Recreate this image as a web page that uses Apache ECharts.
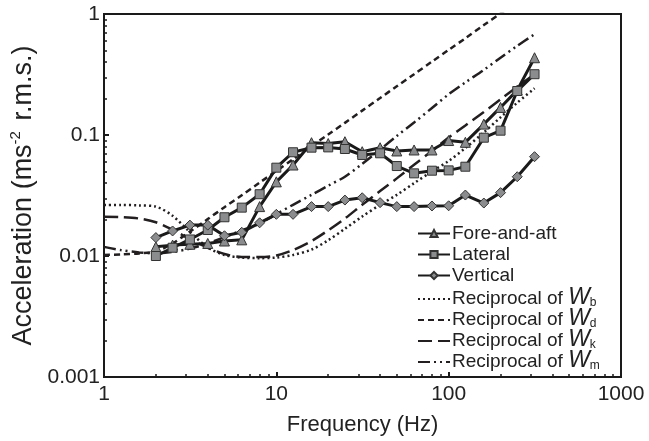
<!DOCTYPE html>
<html>
<head>
<meta charset="utf-8">
<script src="https://cdn.jsdelivr.net/npm/echarts@6/dist/echarts.min.js"></script>
<style>
  html, body { margin: 0; padding: 0; background: #fff; }
  #main { width: 649px; height: 441px; }
</style>
</head>
<body>
<div id="main"></div>
<script>
  // one-third octave centre frequencies of the measured spectra (Hz)
  const freqs = [2, 2.5, 3.15, 4, 5, 6.3, 8, 10, 12.5, 16, 20, 25, 31.5, 40, 50, 63, 80, 100, 125, 160, 200, 250, 315];
  const foreAft = [0.0119, 0.0123, 0.0125, 0.0127, 0.0133, 0.0136, 0.0256, 0.041, 0.0565, 0.0864, 0.085, 0.088, 0.0728, 0.0785, 0.0738, 0.0752, 0.0752, 0.09, 0.087, 0.123, 0.169, 0.235, 0.435];
  const lateral = [0.010, 0.0117, 0.0137, 0.0164, 0.0209, 0.0251, 0.0324, 0.0537, 0.072, 0.0786, 0.079, 0.0766, 0.0684, 0.0706, 0.0554, 0.0482, 0.0507, 0.051, 0.0547, 0.095, 0.1086, 0.231, 0.318];
  const vertical = [0.0142, 0.0161, 0.018, 0.018, 0.0147, 0.0157, 0.0188, 0.0221, 0.0221, 0.0256, 0.0256, 0.029, 0.0303, 0.0276, 0.0256, 0.0256, 0.0259, 0.026, 0.0319, 0.0274, 0.0334, 0.0452, 0.0662];

  // reciprocal frequency weightings
  const wFreqs = [1, 1.25, 1.6, 2, 2.5, 3.15, 4, 5, 6.3, 8, 10, 12.5, 16, 20, 25, 31.5, 40, 50, 63, 80, 100, 125, 160, 200, 250, 315];
  const recipWb = [0.0264, 0.0264, 0.0262, 0.0256, 0.0215, 0.0158, 0.0118, 0.0102, 0.0097, 0.0096, 0.0097, 0.0102, 0.0113, 0.0135, 0.0168, 0.0212, 0.0265, 0.032, 0.040, 0.050, 0.061, 0.078, 0.105, 0.14, 0.185, 0.243];
  const recipWd = [0.0102, 0.0103, 0.0105, 0.0109, 0.0127, 0.0159, 0.0202, 0.0253, 0.0318, 0.0404, 0.0505, 0.063, 0.081, 0.101, 0.126, 0.159, 0.202, 0.253, 0.318, 0.404, 0.505, 0.63, 0.81, 1.01, 1.26, 1.59];
  const recipWk = [0.0211, 0.0210, 0.0204, 0.019, 0.0165, 0.0138, 0.0117, 0.0104, 0.0098, 0.0098, 0.0101, 0.0112, 0.0133, 0.0163, 0.0204, 0.0265, 0.0344, 0.0438, 0.0568, 0.0738, 0.0952, 0.12, 0.155, 0.197, 0.25, 0.318];
  const recipWm = [0.0119, 0.0112, 0.0107, 0.0105, 0.0108, 0.0115, 0.0127, 0.0143, 0.0163, 0.0186, 0.0222, 0.0265, 0.032, 0.0381, 0.0452, 0.0577, 0.0757, 0.0981, 0.127, 0.167, 0.217, 0.272, 0.345, 0.435, 0.545, 0.68];

  const xTicks = ['1', '10', '100', '1000'];
  const yTicks = ['0.001', '0.01', '0.1', '1'];

  const font = 'Liberation Sans';
  const ink = '#1a1a1a';
  const markerFill = '#8a8c8e';

  function pairs(xs, ys) {
    return xs.map((x, i) => [x, ys[i]]);
  }

  function dataLine(name, ys, symbol, size) {
    return {
      name: name,
      type: 'line',
      data: pairs(freqs, ys),
      symbol: symbol,
      symbolSize: size,
      showAllSymbol: true,
      lineStyle: { color: ink, width: 3 },
      itemStyle: { color: markerFill, borderColor: '#333', borderWidth: 1 },
      z: 5
    };
  }

  function refLine(name, ys, dash) {
    return {
      name: name,
      type: 'line',
      data: pairs(wFreqs, ys),
      symbol: 'none',
      smooth: 0.3,
      clip: true,
      lineStyle: { color: '#231f20', width: 2.5, type: dash },
      itemStyle: { color: '#231f20', opacity: 0 },
      z: 3
    };
  }

  const legendNames = {
    Wb: 'Reciprocal of {w|W}{s|b}',
    Wd: 'Reciprocal of {w|W}{s|d}',
    Wk: 'Reciprocal of {w|W}{s|k}',
    Wm: 'Reciprocal of {w|W}{s|m}'
  };

  const legendText = {
    fontFamily: font,
    fontSize: 19,
    color: '#222',
    padding: [0, 0, 0, -3],
    rich: {
      w: { fontFamily: font, fontStyle: 'italic', fontSize: 23, lineHeight: 20, color: '#222', verticalAlign: 'bottom' },
      s: { fontFamily: font, fontSize: 12, lineHeight: 12, color: '#222', verticalAlign: 'bottom' }
    }
  };

  let chart = echarts.init(document.getElementById('main'));
  let option = {
    animation: false,
    textStyle: { fontFamily: font },
    grid: {
      left: 104,
      right: 28,
      top: 14,
      bottom: 64,
      show: true,
      borderColor: ink,
      borderWidth: 2
    },
    legend: [{
      orient: 'vertical',
      left: 412,
      top: 219,
      itemGap: 2,
      itemWidth: 32,
      itemHeight: 9,
      data: ['Fore-and-aft', 'Lateral', 'Vertical'],
      textStyle: legendText
    }, {
      orient: 'vertical',
      left: 412,
      top: 281,
      itemGap: -2,
      itemWidth: 32,
      itemHeight: 9,
      data: [
        { name: 'Wb', itemStyle: { opacity: 0 } },
        { name: 'Wd', itemStyle: { opacity: 0 } },
        { name: 'Wk', itemStyle: { opacity: 0 } },
        { name: 'Wm', itemStyle: { opacity: 0 } }
      ],
      formatter: function (name) {
        return legendNames[name];
      },
      textStyle: legendText
    }],
    xAxis: {
      type: 'log',
      logBase: 10,
      min: 1,
      max: 1000,
      name: 'Frequency (Hz)',
      nameLocation: 'middle',
      nameGap: 37,
      nameTextStyle: { fontFamily: font, fontSize: 22, color: '#222' },
      axisLine: { show: true, lineStyle: { color: ink, width: 2 } },
      axisTick: { show: true, inside: true, length: 5, lineStyle: { color: ink, width: 2 } },
      minorTick: { show: true, splitNumber: 9, length: 3, lineStyle: { color: ink, width: 1.5 } },
      splitLine: { show: false },
      axisLabel: {
        fontFamily: font,
        fontSize: 21,
        color: '#222',
        margin: 7,
        formatter: function (v) {
          return xTicks[Math.round(Math.log10(v))];
        }
      }
    },
    yAxis: {
      type: 'log',
      logBase: 10,
      min: 0.001,
      max: 1,
      name: 'Acceleration (ms{sup|-2} r.m.s.)',
      nameLocation: 'middle',
      nameGap: 58,
      nameRotate: 90,
      nameTextStyle: {
        fontFamily: font,
        fontSize: 27,
        color: '#222',
        rich: {
          sup: { fontFamily: font, fontSize: 15, color: '#222', verticalAlign: 'top', padding: [0, 3, 14, 0] }
        }
      },
      axisLine: { show: true, lineStyle: { color: ink, width: 2 } },
      axisTick: { show: true, inside: true, length: 5, lineStyle: { color: ink, width: 2 } },
      minorTick: { show: true, splitNumber: 9, length: 3, lineStyle: { color: ink, width: 1.5 } },
      splitLine: { show: false },
      axisLabel: {
        fontFamily: font,
        fontSize: 21,
        color: '#222',
        margin: 4,
        formatter: function (v) {
          return yTicks[Math.round(Math.log10(v)) + 3];
        }
      }
    },
    series: [
      refLine('Wb', recipWb, [2, 3]),
      refLine('Wd', recipWd, [6, 4]),
      refLine('Wk', recipWk, [14, 6]),
      refLine('Wm', recipWm, [12, 4, 2, 4, 2, 4]),
      dataLine('Fore-and-aft', foreAft, 'triangle', 10),
      dataLine('Lateral', lateral, 'rect', 9),
      dataLine('Vertical', vertical, 'diamond', 10)
    ]
  };
  chart.setOption(option);
</script>
</body>
</html>
